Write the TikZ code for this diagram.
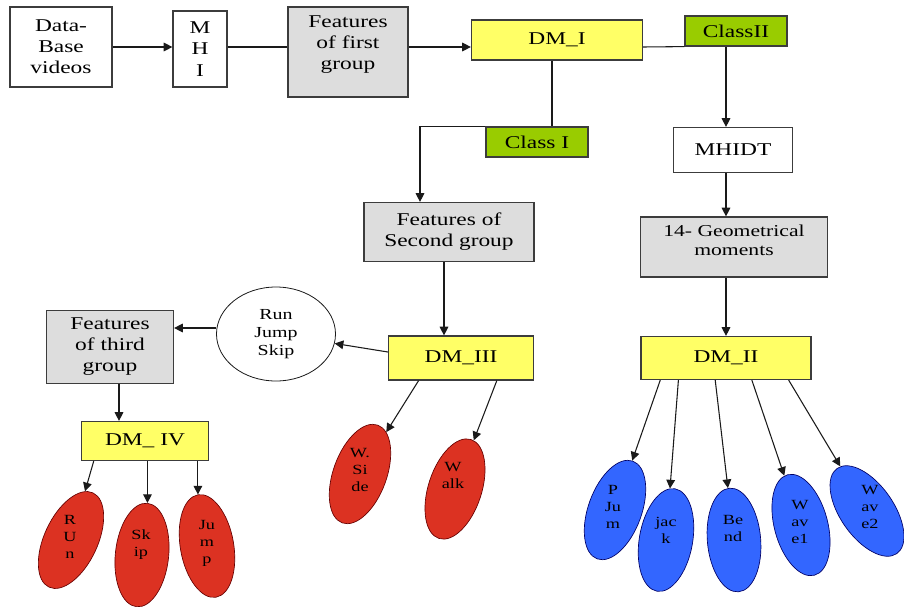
\documentclass[tikz,border=0pt]{standalone}
\usepackage{fontspec}
\setmainfont{Liberation Serif}[FakeStretch=1.3]
\usetikzlibrary{arrows.meta,positioning,shapes.geometric,calc}
\definecolor{ink}{HTML}{1A1A1A}
\definecolor{dmyellow}{HTML}{FFFF66}
\definecolor{classgreen}{HTML}{99CC00}
\definecolor{featgray}{HTML}{DDDDDD}
\definecolor{leafred}{HTML}{DC3222}
\definecolor{leafblue}{HTML}{3366FF}
\tikzset{
  box/.style={draw=ink!85,line width=0.9pt,fill=white,align=center,inner sep=1pt,
              font=\fontsize{13.5}{15.75}\selectfont},
  featbox/.style={box,fill=featgray},
  dmbox/.style={box,fill=dmyellow},
  classbox/.style={box,fill=classgreen},
  redleaf/.style={ellipse,draw=red!40!black,fill=leafred,line width=0.5pt,
                  minimum width=40pt,minimum height=78pt,inner sep=0pt},
  blueleaf/.style={redleaf,draw=blue!40!black,fill=leafblue},
  leaftext/.style={align=center,inner sep=0pt,font=\fontsize{10.5}{12.75}\selectfont},
  arr/.style={-{Triangle[length=6.5pt,width=6.5pt]},line width=0.8pt,draw=ink},
  link/.style={line width=0.8pt,draw=ink}
}
\begin{document}
\begin{tikzpicture}[x=0.75pt,y=-0.75pt]
  \path[use as bounding box] (0,0) rectangle (904,607);
  % first row
  \node[box,minimum width=76.5pt,minimum height=60pt] (db) at (61,47)
    {Data-\\Base\\videos};
  \node[box,minimum width=40.5pt,minimum height=57pt,
        font=\fontsize{13.5}{16.25}\selectfont] (mhi) at (200,49) {M\\H\\I};
  \node[featbox,minimum width=90pt,minimum height=67.5pt,text depth=14pt] (feat1) at (348,52)
    {Features\\of first\\group};
  \node[dmbox,minimum width=128.25pt,minimum height=30pt] (dm1) at (557,40) {DM\_I};
  \node[classbox,minimum width=76.5pt,minimum height=22.5pt] (cls2) at (736,31) {ClassII};
  \node[classbox,minimum width=76.5pt,minimum height=22.5pt] (cls1) at (537,142) {Class I};
  \node[box,minimum width=89.25pt,minimum height=33.75pt] (mhidt) at (733,150) {MHIDT};
  % second level
  \node[featbox,minimum width=127.5pt,minimum height=44.25pt] (feat2) at (449,232)
    {Features of\\Second group};
  \node[featbox,minimum width=140.25pt,minimum height=45pt,text depth=10pt,
        font=\fontsize{12.5}{14.5}\selectfont] (geo) at (734,247)
    {14- Geometrical\\moments};
  \node[featbox,minimum width=95.25pt,minimum height=54.75pt] (feat3) at (110,347)
    {Features\\of third\\group};
  \node[ellipse,draw=ink,line width=0.6pt,fill=white,align=center,inner sep=0pt,
        minimum width=89.25pt,minimum height=70.5pt,
        font=\fontsize{11.5}{13.3}\selectfont] (rjs) at (276,334) {Run\\Jump\\Skip};
  \node[dmbox,minimum width=108.75pt,minimum height=33pt] (dm3) at (461,358) {DM\_III};
  \node[dmbox,minimum width=127.5pt,minimum height=32.25pt] (dm2) at (726,358) {DM\_II};
  \node[dmbox,minimum width=95.25pt,minimum height=29.25pt] (dm4) at (145,441) {DM\_ IV};
  % leaves
  \node[redleaf,rotate=-25] (run) at (71,540) {};
  \node[redleaf,rotate=-6] (skip) at (142,555) {};
  \node[redleaf,rotate=10] (jump) at (207,546) {};
  \node[redleaf,rotate=-20] (wside) at (360,474) {};
  \node[redleaf,rotate=-18] (walk) at (455,489) {};
  \node[blueleaf,rotate=-20] (pjum) at (615,510) {};
  \node[blueleaf,rotate=-10] (jack) at (666,540) {};
  \node[blueleaf,rotate=5] (bend) at (734,540) {};
  \node[blueleaf,rotate=15] (wave1) at (801,525) {};
  \node[blueleaf,rotate=35] (wave2) at (867,511) {};
  \node[leaftext] (runtxt) at (70,537) {R\\U\\n};
  \node[leaftext] (skiptxt) at (141,545) {Sk\\ip};
  \node[leaftext] (jumptxt) at (207,543) {Ju\\m\\p};
  \node[leaftext] (wsidetxt) at (360,470) {W.\\Si\\de};
  \node[leaftext] (walktxt) at (453,475) {W\\alk};
  \node[leaftext] (pjumtxt) at (613,507) {P\\Ju\\m};
  \node[leaftext] (jacktxt) at (666,530) {jac\\k};
  \node[leaftext] (bendtxt) at (733,528) {Be\\nd};
  \node[leaftext] (wave1txt) at (800,522) {W\\av\\e1};
  \node[leaftext] (wave2txt) at (870,507) {W\\av\\e2};
  % connectors
  \draw[arr] (db.east) -- (db.east -| mhi.west);
  \draw[link] (db.east -| mhi.east) -- (db.east -| feat1.west);
  \draw[arr] (db.east -| feat1.east) -- (db.east -| dm1.west);
  \draw[link] (db.east -| dm1.east) -- (cls2.south west);
  \draw[link] ([xshift=-3.75pt]dm1.south) -- ([xshift=-3.75pt]dm1.south |- cls1.north);
  \draw[arr] (cls1.north west) -| ([xshift=-21.75pt]feat2.north);
  \draw[arr] (dm2.north |- cls2.south) -- (dm2.north |- mhidt.north);
  \draw[arr] (dm2.north |- mhidt.south) -- (dm2.north |- geo.north);
  \draw[arr] (dm2.north |- geo.south) -- (dm2.north);
  \draw[arr] ([xshift=-3.75pt]feat2.south) -- ([xshift=-3.75pt]feat2.south |- dm3.north);
  \draw[arr] ([yshift=4.5pt]dm3.west) -- (rjs);
  \draw[arr] ([yshift=4.5pt]rjs.west) -- ([yshift=4.5pt]rjs.west -| feat3.east);
  \draw[arr] ([xshift=6.75pt]feat3.south) -- ([xshift=6.75pt]feat3.south |- dm4.north);
  \draw[arr] ($(dm4.south west)!0.1!(dm4.south east)$) -- (run);
  \draw[arr] (skip.north |- dm4.south) -- (skip.north);
  \draw[arr] (jump.north |- dm4.south) -- (jump.north);
  \draw[arr] ($(dm3.south west)!0.21!(dm3.south east)$) -- (wside);
  \draw[arr] ($(dm3.south west)!0.745!(dm3.south east)$) -- (walk);
  \foreach \f/\leaf in {0.116/pjum,0.222/jack,0.437/bend,0.651/wave1,0.866/wave2}
    \draw[arr] ($(dm2.south west)!\f!(dm2.south east)$) -- (\leaf);
\end{tikzpicture}
\end{document}
